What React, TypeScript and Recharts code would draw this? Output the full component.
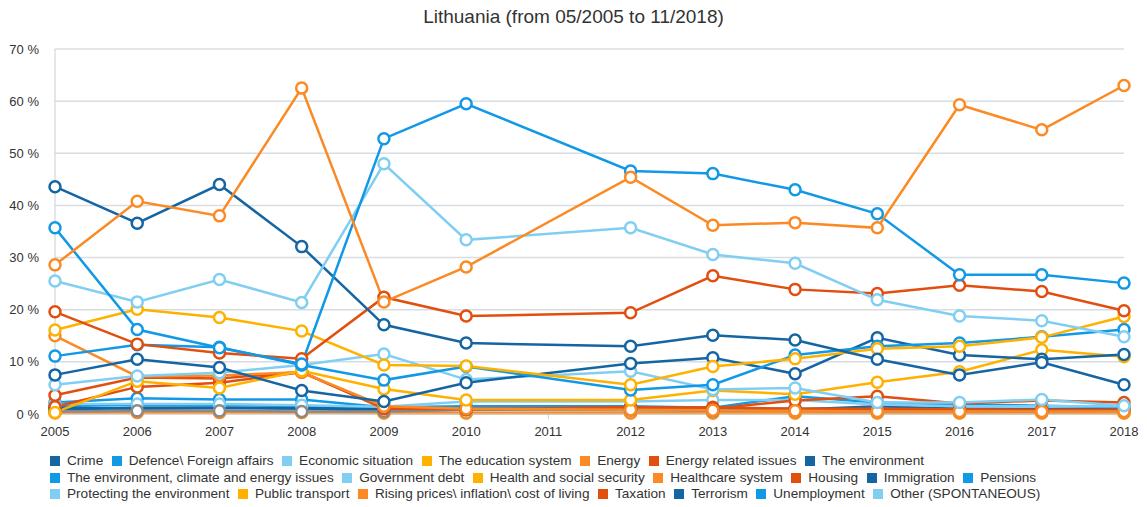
import React from "react";
import { LineChart, Line, XAxis, YAxis, CartesianGrid } from "recharts";

const years = [2005, 2006, 2007, 2008, 2009, 2010, 2012, 2013, 2014, 2015, 2016, 2017, 2018];
const xTicks = [2005, 2006, 2007, 2008, 2009, 2010, 2011, 2012, 2013, 2014, 2015, 2016, 2017, 2018];
const yTicks = [0, 10, 20, 30, 40, 50, 60, 70];

const crime = [43.6, 36.6, 44.0, 32.1, 17.1, 13.6, 13.0, 15.1, 14.2, 10.5, 7.5, 9.9, 5.6];
const defence = [2.2, 3.0, 2.8, 2.8, 1.3, 1.5, 1.5, 1.2, 3.4, 2.2, 1.8, 1.6, 1.3];
const economicSituation = [25.5, 21.5, 25.8, 21.4, 48.0, 33.4, 35.7, 30.6, 28.9, 21.9, 18.8, 17.9, 14.8];
const educationSystem = [0.3, 6.3, 5.0, 8.3, 4.8, 2.7, 2.7, 4.5, 3.8, 6.1, 8.1, 12.3, 11.0];
const energy = [15.0, 7.2, 7.4, 8.0, 1.5, 1.0, 0.8, 0.7, 0.6, 0.5, 0.5, 0.5, 0.5];
const energyRelated = [3.6, 7.0, 6.8, 8.1, 1.0, 0.9, 1.3, 1.0, 2.6, 3.4, 2.0, 2.6, 2.2];
const environment = [1.2, 1.0, 1.1, 1.2, 0.9, 0.9, 1.0, 0.8, 0.9, 0.8, 0.7, 0.7, 0.8];
const envClimate = [1.5, 1.8, 1.7, 1.6, 1.0, 1.0, 1.0, 1.0, 1.0, 1.0, 1.0, 1.0, 1.0];
const governmentDebt = [5.6, 7.3, 7.9, 9.4, 11.5, 6.6, 8.2, 4.7, 5.0, 2.2, 2.2, 2.8, 1.6];
const healthSocial = [16.1, 20.1, 18.5, 15.9, 9.4, 9.2, 5.6, 9.1, 10.6, 12.5, 13.0, 14.7, 18.7];
const healthcare = [0.2, 0.3, 0.3, 0.3, 0.2, 0.2, 0.2, 0.2, 0.2, 0.2, 0.2, 0.2, 0.2];
const housing = [1.4, 5.2, 6.0, 8.0, 1.2, 1.0, 1.2, 1.3, 1.0, 1.0, 0.9, 0.8, 0.8];
const immigration = [7.5, 10.5, 8.9, 4.5, 2.4, 6.0, 9.7, 10.8, 7.7, 14.6, 11.3, 10.5, 11.4];
const pensions = [11.1, 13.3, 12.8, 9.4, 6.5, 9.1, 4.6, 5.6, 11.3, 13.0, 13.6, 14.8, 16.2];
const protectingEnv = [1.2, 1.3, 1.3, 1.2, 0.8, 1.0, 1.0, 1.0, 1.0, 0.9, 0.9, 0.9, 0.9];
const publicTransport = [0.3, 0.3, 0.3, 0.3, 0.2, 0.2, 0.2, 0.2, 0.2, 0.2, 0.2, 0.2, 0.2];
const risingPrices = [28.6, 40.8, 38.0, 62.5, 21.5, 28.2, 45.4, 36.2, 36.7, 35.7, 59.3, 54.5, 63.0];
const taxation = [19.6, 13.4, 11.7, 10.6, 22.4, 18.8, 19.4, 26.5, 23.9, 23.1, 24.7, 23.5, 19.8];
const terrorism = [0.8, 1.2, 1.2, 1.0, 0.6, 0.8, 0.9, 0.7, 0.8, 1.5, 1.0, 0.9, 1.0];
const unemployment = [35.7, 16.2, 12.7, 9.6, 52.8, 59.5, 46.6, 46.1, 43.0, 38.4, 26.7, 26.7, 25.1];
const other = [1.9, 1.9, 1.9, 1.7, 1.4, 2.4, 2.4, 2.7, 2.7, 1.8, 1.5, 1.5, 1.5];
const unlisted = [0.5, 0.6, 0.6, 0.5, 0.5, 0.8, 0.7, 0.6, 0.6, 0.5, 0.5, 0.5, 0.6];

const DARK = "#1565a3";
const BLUE = "#1199e6";
const LIGHT = "#80cff3";
const YELLOW = "#ffb100";
const ORANGE = "#fb8a24";
const RED = "#e24e0e";
const GRAY = "#8a8a8a";

const series = [
  { key: "crime", name: "Crime", color: DARK, values: crime },
  { key: "defence", name: "Defence\\ Foreign affairs", color: BLUE, values: defence },
  { key: "econ", name: "Economic situation", color: LIGHT, values: economicSituation },
  { key: "edu", name: "The education system", color: YELLOW, values: educationSystem },
  { key: "energy", name: "Energy", color: ORANGE, values: energy },
  { key: "energyRel", name: "Energy related issues", color: RED, values: energyRelated },
  { key: "env", name: "The environment", color: DARK, values: environment },
  { key: "envClim", name: "The environment, climate and energy issues", color: BLUE, values: envClimate },
  { key: "debt", name: "Government debt", color: LIGHT, values: governmentDebt },
  { key: "health", name: "Health and social security", color: YELLOW, values: healthSocial },
  { key: "healthcare", name: "Healthcare system", color: ORANGE, values: healthcare },
  { key: "housing", name: "Housing", color: RED, values: housing },
  { key: "immig", name: "Immigration", color: DARK, values: immigration },
  { key: "pensions", name: "Pensions", color: BLUE, values: pensions },
  { key: "protEnv", name: "Protecting the environment", color: LIGHT, values: protectingEnv },
  { key: "transport", name: "Public transport", color: YELLOW, values: publicTransport },
  { key: "prices", name: "Rising prices\\ inflation\\ cost of living", color: ORANGE, values: risingPrices },
  { key: "tax", name: "Taxation", color: RED, values: taxation },
  { key: "terror", name: "Terrorism", color: DARK, values: terrorism },
  { key: "unemp", name: "Unemployment", color: BLUE, values: unemployment },
  { key: "other", name: "Other (SPONTANEOUS)", color: LIGHT, values: other },
];

const lowOrder = ["transport", "healthcare", "protEnv", "envClim", "env", "terror", "defence", "other"];
const highOrder = [
  "housing", "energyRel", "energy", "edu", "debt", "immig", "pensions", "health",
  "tax", "crime", "econ", "unemp", "prices",
];

const data = years.map((y, i) => {
  const row: Record<string, number> = { year: y, unlisted: unlisted[i] };
  series.forEach((s) => {
    row[s.key] = s.values[i];
  });
  return row;
});

const FONT = "'Liberation Sans', Arial, sans-serif";

function renderLine(key: string, name: string, color: string) {
  return (
    <Line
      key={key}
      dataKey={key}
      name={name}
      stroke={color}
      strokeWidth={2.5}
      dot={{ r: 5.5, fill: "#fff", stroke: color, strokeWidth: 2.5 }}
      activeDot={false}
      isAnimationActive={false}
    />
  );
}

export default function App() {
  const byKey = (k: string) => series.find((x) => x.key === k)!;
  return (
    <div style={{ position: "absolute", left: 0, top: 0, width: 1147, height: 507, background: "#fff", fontFamily: FONT }}>
      <div style={{ position: "absolute", left: 0, top: 6, width: 1147, textAlign: "center", fontSize: 19, color: "#333" }}>
        Lithuania (from 05/2005 to 11/2018)
      </div>
      <LineChart width={1147} height={507} data={data} margin={{ top: 49, right: 23, left: 0, bottom: 63 }}>
        <CartesianGrid vertical={false} stroke="#d8dde2" strokeWidth={1.5} />
        <XAxis
          dataKey="year"
          type="number"
          domain={[2005, 2018]}
          ticks={xTicks}
          height={30}
          interval={0}
          stroke="#c9cfd5"
          tickSize={5}
          tickMargin={8}
          tick={{ fill: "#333", fontSize: 13, fontFamily: FONT }}
        />
        <YAxis
          type="number"
          domain={[0, 70]}
          ticks={yTicks}
          width={55}
          stroke="#c9cfd5"
          tickLine={false}
          tickMargin={10}
          tickFormatter={(v: number) => `${v} %`}
          tick={{ fill: "#333", fontSize: 13, fontFamily: FONT }}
        />
        {lowOrder.map((k) => renderLine(k, byKey(k).name, byKey(k).color))}
        {renderLine("unlisted", "unlisted", GRAY)}
        {highOrder.map((k) => renderLine(k, byKey(k).name, byKey(k).color))}
      </LineChart>
      <div
        style={{
          position: "absolute",
          left: 50,
          top: 453,
          width: 1010,
          display: "flex",
          flexWrap: "wrap",
          columnGap: 8.5,
          rowGap: 0,
          fontSize: 13.6,
          color: "#333",
          lineHeight: "16.5px",
        }}
      >
        {series.map((s) => (
          <div key={s.key} style={{ display: "flex", alignItems: "center", whiteSpace: "nowrap" }}>
            <span style={{ display: "inline-block", width: 10, height: 10, background: s.color, marginRight: 7 }} />
            <span>{s.name}</span>
          </div>
        ))}
      </div>
    </div>
  );
}
